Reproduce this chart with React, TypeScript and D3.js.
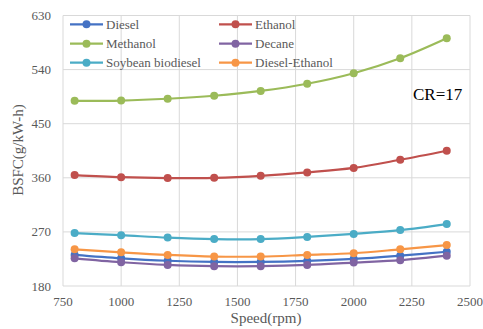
import React from "react";
import * as d3 from "d3";

const speeds = [800, 1000, 1200, 1400, 1600, 1800, 2000, 2200, 2400];

const diesel = [231.7, 226, 222, 220, 220, 221.7, 225, 230.5, 237];
const ethanol = [364.5, 361, 359.5, 360, 363.3, 369, 376.5, 390, 405];
const methanol = [488, 488.5, 491.5, 496.5, 504.5, 516.5, 534, 558.8, 592];
const decane = [226, 219.5, 215, 213, 213, 215, 219, 223, 230.5];
const soybean = [268, 264.5, 260.5, 258, 258, 261.7, 266.7, 273, 283];
const dieselEthanol = [241, 236, 231.7, 229, 229, 231.7, 234.5, 241, 248];

const seriesNames = ["Diesel", "Ethanol", "Methanol", "Decane", "Soybean biodiesel", "Diesel-Ethanol"];
const seriesValues = [diesel, ethanol, methanol, decane, soybean, dieselEthanol];
const seriesColors = ["#4472C4", "#C0504D", "#9BBB59", "#8064A2", "#4BACC6", "#F79646"];

const xTicks = [750, 1000, 1250, 1500, 1750, 2000, 2250, 2500];
const yTicks = [180, 270, 360, 450, 540, 630];

const W = 483;
const H = 329;
const margin = { left: 63, right: 13, top: 15.5, bottom: 43 };
const FONT = "'Liberation Serif', 'Times New Roman', Times, serif";
const textStyle = { fontFamily: FONT };

export default function App() {
  const x = d3.scaleLinear().domain([750, 2500]).range([margin.left, W - margin.right]);
  const y = d3.scaleLinear().domain([180, 630]).range([H - margin.bottom, margin.top]);

  const line = d3
    .line<number>()
    .x((_, i) => x(speeds[i]))
    .y((d) => y(d))
    .curve(d3.curveCatmullRom.alpha(0.5));

  const legendX = [70, 219];
  const legendY = [24.3, 43.7, 62.7];

  return (
    <svg
      width={W}
      height={H}
      style={{ position: "fixed", left: 0, top: 0, background: "#fff" }}
    >
      <rect x={0} y={0} width={W} height={H} fill="#fff" />
      {/* grid */}
      {xTicks.map((t) => (
        <line key={"gx" + t} x1={x(t)} x2={x(t)} y1={y(630)} y2={y(180)} stroke="#d9d9d9" strokeWidth={1} />
      ))}
      {yTicks.map((t) => (
        <line key={"gy" + t} x1={x(750)} x2={x(2500)} y1={y(t)} y2={y(t)} stroke="#d9d9d9" strokeWidth={1} />
      ))}
      {/* tick labels */}
      {yTicks.map((t) => (
        <text key={"ty" + t} x={x(750) - 12} y={y(t) + 4.5} textAnchor="end" fontSize={13} fill="#595959" style={textStyle}>
          {t}
        </text>
      ))}
      {xTicks.map((t) => (
        <text key={"tx" + t} x={x(t)} y={306} textAnchor="middle" fontSize={13} fill="#595959" style={textStyle}>
          {t}
        </text>
      ))}
      {/* axis titles */}
      <text x={266} y={323} textAnchor="middle" fontSize={15} fill="#595959" style={textStyle}>
        Speed(rpm)
      </text>
      <text
        transform={`translate(23,150) rotate(-90)`}
        textAnchor="middle"
        fontSize={15}
        fill="#595959"
        style={textStyle}
      >
        BSFC(g/kW-h)
      </text>
      {/* series */}
      {seriesValues.map((vals, si) => (
        <g key={"s" + si}>
          <path d={line(vals) || ""} fill="none" stroke={seriesColors[si]} strokeWidth={2.2} />
          {vals.map((v, i) => (
            <circle key={i} cx={x(speeds[i])} cy={y(v)} r={4} fill={seriesColors[si]} />
          ))}
        </g>
      ))}
      {/* legend */}
      {seriesNames.map((name, i) => {
        const lx = legendX[i % 2];
        const ly = legendY[Math.floor(i / 2)];
        return (
          <g key={"l" + i}>
            <line x1={lx} x2={lx + 33} y1={ly} y2={ly} stroke={seriesColors[i]} strokeWidth={2.2} />
            <circle cx={lx + 16.5} cy={ly} r={4} fill={seriesColors[i]} />
            <text x={lx + 36} y={ly + 4.5} fontSize={13} fill="#595959" style={textStyle}>
              {name}
            </text>
          </g>
        );
      })}
      <text x={413} y={100} fontSize={17} fill="#000" style={textStyle}>
        CR=17
      </text>
    </svg>
  );
}
